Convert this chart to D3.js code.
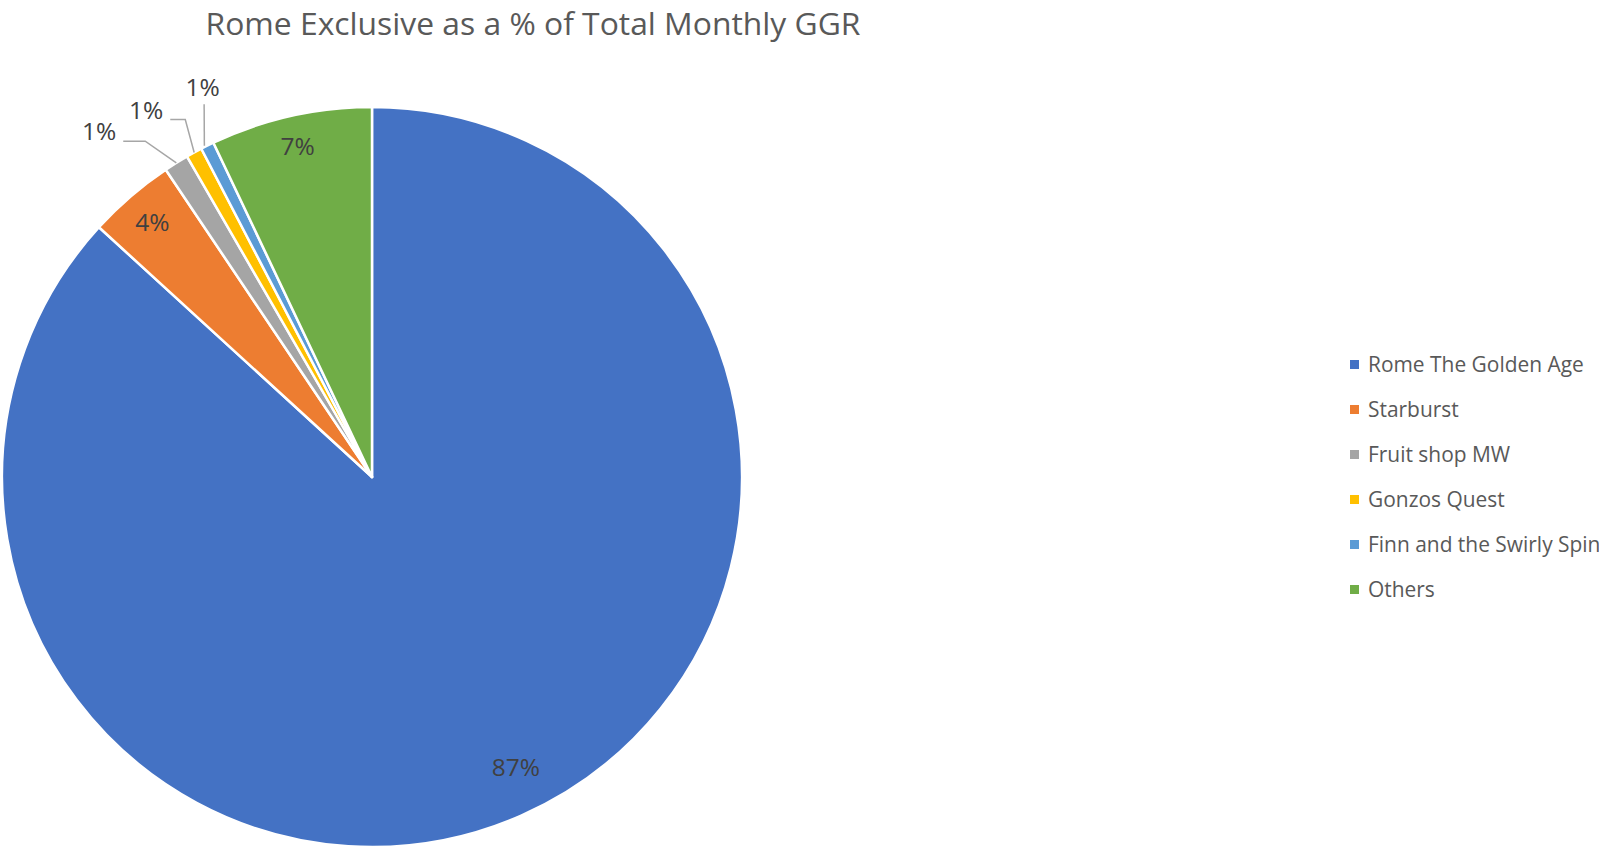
<!DOCTYPE html>
<html><head><meta charset="utf-8">
<script src="https://cdn.jsdelivr.net/npm/d3@7"></script>
<style>body{margin:0;background:#fff;}svg{display:block;}</style>
</head><body>
<svg id="chart" width="1599" height="847"></svg>
<script>
const title = "Rome Exclusive as a % of Total Monthly GGR";
const categories = ["Rome The Golden Age","Starburst","Fruit shop MW","Gonzos Quest","Finn and the Swirly Spin","Others"];
const values = [86.8, 3.8, 1.08, 0.7, 0.58, 7.05];
const labels = ["87%","4%","1%","1%","1%","7%"];
const colors = ["#4472C4","#ED7D31","#A5A5A5","#FFC000","#5B9BD5","#70AD47"];

const svg = d3.select("#chart");
const W = 1599, H = 847;
const cx = 372, cy = 477, R = 370;
const font = "'Open Sans', sans-serif";

// Title
const t = svg.append("text").text(title)
  .attr("x", 533).attr("y", 30).attr("text-anchor","middle")
  .attr("fill","#595959").style("font-family",font).style("font-size","30px");
{
  const w = t.node().getComputedTextLength();
  const f = 30*655/w;
  t.style("font-size", f+"px");
  // keep the full glyph box inside the canvas
  const bb = t.node().getBBox();
  if (bb.y < 1) t.attr("y", 30 + (1 - bb.y));
}

const pie = d3.pie().sort(null).value(d=>d.v);
const data = categories.map((c,i)=>({c, v:values[i], label:labels[i], color:colors[i]}));
const arcs = pie(data);
const arc = d3.arc().innerRadius(0).outerRadius(R);

const g = svg.append("g").attr("transform",`translate(${cx},${cy})`);
g.selectAll("path").data(arcs).join("path")
  .attr("d",arc).attr("fill",d=>d.data.color)
  .attr("stroke","#fff").attr("stroke-width",2.5).attr("stroke-linejoin","round");

// Label layout
const fs = 24.5;
const inside = {0:{rf:0.875, dAng:-2.6}, 1:{rf:0.91, dAng:0}, 5:{rf:0.915, dAng:0}};
// outside label placement: polar (angle in degrees, radius factor)
const outside = {
  2: {ang:-38.3, rf:1.19, leader:"elbow", elbowDx:22},
  3: {ang:-31.6, rf:1.165, leader:"elbow", elbowDx:15},
  4: {ang:-23.5, rf:1.148, leader:"vertical"}
};
const lg = svg.append("g");
arcs.forEach((a,i)=>{
  const mid = (a.startAngle+a.endAngle)/2;
  let x, y;
  if (inside[i] !== undefined) {
    const r = R*inside[i].rf, an = mid + inside[i].dAng*Math.PI/180;
    x = cx + r*Math.sin(an); y = cy - r*Math.cos(an);
  } else {
    const o = outside[i];
    const an = o.ang*Math.PI/180, r = R*o.rf;
    x = cx + r*Math.sin(an); y = cy - r*Math.cos(an);
  }
  const txt = lg.append("text").text(a.data.label)
    .attr("x",x).attr("y",y + fs*0.714/2).attr("text-anchor","middle")
    .attr("fill","#404040").style("font-family",font).style("font-size",fs+"px");
  if (outside[i]) {
    const o = outside[i];
    const bb = txt.node().getBBox();
    const ex = cx + R*Math.sin(mid), ey = cy - R*Math.cos(mid);
    let pts;
    if (o.leader === "elbow") {
      const sx = bb.x + bb.width + 7, sy = y + fs*0.714/2 + 1;
      pts = [[sx,sy],[sx+o.elbowDx,sy],[ex,ey]];
    } else {
      const sx = x + 1.5, sy = y + fs*0.714/2 + 8;
      pts = [[sx,sy],[ex-3,ey]];
    }
    lg.append("path").attr("d",d3.line()(pts)).attr("fill","none")
      .attr("stroke","#A6A6A6").attr("stroke-width",1.5);
  }
});

// Legend
const legX = 1350, legY0 = 364.5, legStep = 45;
const leg = svg.append("g");
const items = leg.selectAll("g").data(data).join("g")
  .attr("transform",(d,i)=>`translate(${legX},${legY0+i*legStep})`);
items.append("rect").attr("x",0).attr("y",-4.5).attr("width",9).attr("height",9).attr("fill",d=>d.color);
const lt = items.append("text").text(d=>d.c).attr("x",18).attr("y",7.2)
  .attr("fill","#595959").style("font-family",font).style("font-size","20px");
{
  const w = lt.nodes()[0].getComputedTextLength();
  lt.style("font-size",(20*216/w)+"px");
}
</script>
</body></html>
